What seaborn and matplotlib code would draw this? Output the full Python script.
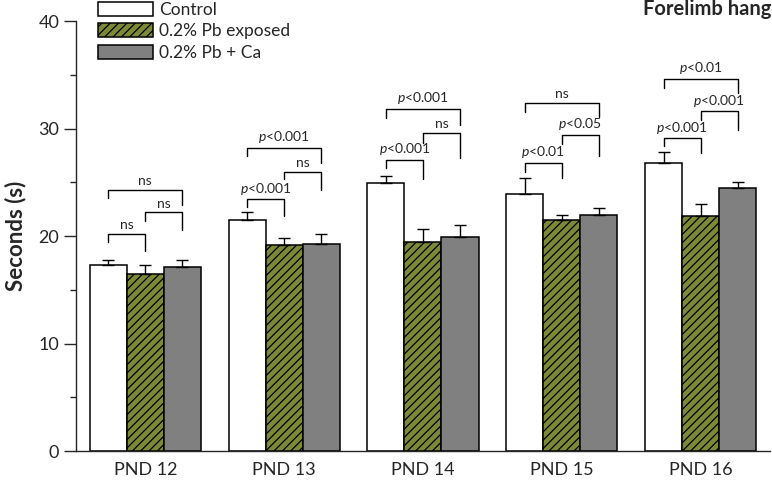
import pandas as pd
import seaborn as sns
import matplotlib.pyplot as plt
import numpy as np

# values
days = ["PND 12", "PND 13", "PND 14", "PND 15", "PND 16"]
groups = ["Control", "0.2% Pb exposed", "0.2% Pb + Ca"]
control_mean = [17.3, 21.5, 24.9, 23.9, 26.8]
control_err = [0.5, 0.7, 0.7, 1.5, 1.0]
pb_mean = [16.5, 19.2, 19.4, 21.5, 21.9]
pb_err = [0.8, 0.6, 1.3, 0.5, 1.1]
ca_mean = [17.1, 19.3, 19.9, 22.0, 24.5]
ca_err = [0.7, 0.9, 1.1, 0.6, 0.5]

# significance brackets: (bar a, bar b) per day, label, bracket top, end of left leg, end of right leg
pairs = [(0, 1), (1, 2), (0, 2)]
sig_labels = [["ns", "ns", "ns"],
              ["p<0.001", "ns", "p<0.001"],
              ["p<0.001", "ns", "p<0.001"],
              ["p<0.01", "p<0.05", "ns"],
              ["p<0.001", "p<0.001", "p<0.01"]]
bracket_top = [[20.2, 22.2, 24.3],
               [23.4, 26.0, 28.2],
               [27.1, 29.6, 31.8],
               [26.8, 29.4, 32.4],
               [29.1, 31.6, 34.6]]
bracket_left = [[19.4, 21.4, 23.5],
                [22.7, 25.3, 27.4],
                [26.3, 28.7, 31.0],
                [26.0, 28.6, 31.5],
                [28.4, 30.8, 33.8]]
bracket_right = [[18.6, 20.6, 22.9],
                 [21.9, 24.3, 26.8],
                 [25.3, 27.3, 30.3],
                 [25.4, 27.4, 31.1],
                 [27.7, 29.9, 33.3]]

means = [control_mean, pb_mean, ca_mean]
errs = [control_err, pb_err, ca_err]
df = pd.DataFrame({
    "day": days * 3,
    "group": np.repeat(groups, len(days)),
    "value": control_mean + pb_mean + ca_mean,
})

sns.set_style("ticks")
plt.rcParams["font.family"] = ["Lato", "DejaVu Sans"]
plt.rcParams["mathtext.fontset"] = "custom"
plt.rcParams["mathtext.it"] = "Lato:italic"
plt.rcParams["mathtext.rm"] = "Lato"
plt.rcParams["hatch.linewidth"] = 0.9

fig = plt.figure(figsize=(7.72, 4.84), dpi=100)
ax = fig.add_axes([0.0984, 0.068, 0.899, 0.8886])

colors = ["white", "#7d8a35", "#808080"]
sns.barplot(data=df, x="day", y="value", hue="group", palette=colors,
            saturation=1, edgecolor="black", linewidth=1.1, width=0.8,
            legend=False, ax=ax)
bars = list(ax.containers)

# hatch the Pb bars
for p in bars[1]:
    p.set_hatch("////")

# one-sided error bars
centers = []
for k, cont in enumerate(bars):
    xs = [p.get_x() + p.get_width() / 2 for p in cont]
    centers.append(xs)
    ax.errorbar(xs, means[k], yerr=[np.zeros(len(xs)), errs[k]], fmt="none",
                ecolor="black", elinewidth=1.0, capsize=4.5, capthick=1.0, zorder=3)

# brackets
for d in range(len(days)):
    for n, (a, b) in enumerate(pairs):
        xa, xb = centers[a][d], centers[b][d]
        top = bracket_top[d][n]
        ax.plot([xa, xa, xb, xb], [bracket_left[d][n], top, top, bracket_right[d][n]],
                color="black", lw=1.0)
        lab = sig_labels[d][n]
        if lab.startswith("p"):
            lab = "$p$" + lab[1:]
        ax.text((xa + xb) / 2, top + 0.25, lab, ha="center", va="bottom", fontsize=10)

ax.set_ylim(0, 40)
ax.set_xlim(-0.5, 4.5)
ax.set_yticks([0, 10, 20, 30, 40])
ax.set_yticks([5, 15, 25, 35], minor=True)
ax.tick_params(axis="y", which="major", length=9, width=1, labelsize=13, pad=3)
ax.tick_params(axis="y", which="minor", length=4.5, width=1)
ax.tick_params(axis="x", length=0, labelsize=13, pad=8)
ax.set_xlabel("")
ax.set_ylabel("Seconds (s)", fontsize=16, fontweight="bold", labelpad=9)
sns.despine(ax=ax)
ax.spines["left"].set_linewidth(1.0)
ax.spines["bottom"].set_linewidth(1.0)

handles = [cont[0] for cont in bars]
ax.legend(handles, groups, loc="upper left", bbox_to_anchor=(0.032, 1.045),
          frameon=False, fontsize=12.5, handlelength=3.15, handleheight=0.85,
          labelspacing=0.32, handletextpad=0.35, borderaxespad=0, borderpad=0)

fig.text(0.999, 0.982, "Forelimb hang", ha="right", va="center",
         fontsize=14.5, fontweight="bold")

fig.savefig("out.png", dpi=100)
